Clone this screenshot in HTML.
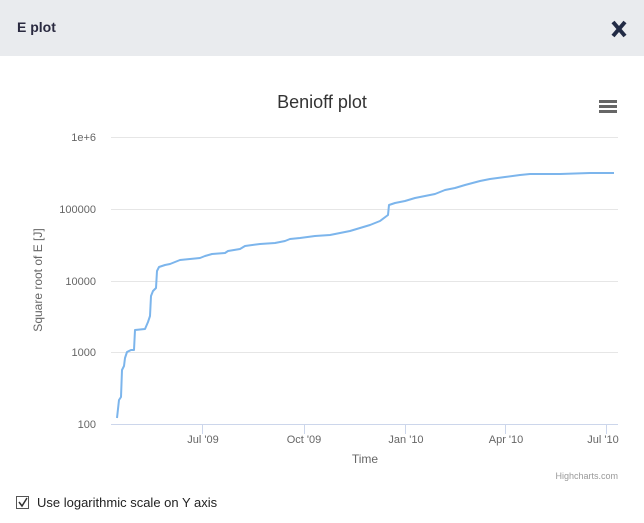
<!DOCTYPE html>
<html><head><meta charset="utf-8"><style>
body{margin:0;width:644px;height:523px;background:#fff;font-family:"Liberation Sans",sans-serif;overflow:hidden;position:relative}
.hdr{position:absolute;left:0;top:0;width:644px;height:56px;background:#e9ebee}
.hdr span{position:absolute;left:17px;top:19px;font-size:14px;font-weight:bold;color:#2a2a40}
</style></head><body>
<div class="hdr"><span>E plot</span></div>
<svg width="644" height="523" style="position:absolute;left:0;top:0" xmlns="http://www.w3.org/2000/svg">
<path d="M613 22 L625 36 M625 22 L613 36" stroke="#222b45" stroke-width="4"/>
<text x="322" y="108" text-anchor="middle" font-size="18" fill="#333">Benioff plot</text>
<g fill="#666"><rect x="599" y="100" width="18" height="3"/><rect x="599" y="105" width="18" height="3"/><rect x="599" y="110" width="18" height="3"/></g>
<g stroke="#e6e6e6" stroke-width="1">
<line x1="111" x2="618" y1="137.5" y2="137.5"/><line x1="111" x2="618" y1="209.5" y2="209.5"/>
<line x1="111" x2="618" y1="281.5" y2="281.5"/><line x1="111" x2="618" y1="352.5" y2="352.5"/>
</g>
<line x1="111" x2="618" y1="424.5" y2="424.5" stroke="#ccd6eb"/>
<g stroke="#ccd6eb"><line x1="202.5" x2="202.5" y1="424" y2="434"/><line x1="304.5" x2="304.5" y1="424" y2="434"/><line x1="405.5" x2="405.5" y1="424" y2="434"/><line x1="505.5" x2="505.5" y1="424" y2="434"/><line x1="606.5" x2="606.5" y1="424" y2="434"/></g>
<g font-size="11" fill="#666" text-anchor="end">
<text x="96" y="141">1e+6</text><text x="96" y="213">100000</text><text x="96" y="285">10000</text><text x="96" y="356">1000</text><text x="96" y="428">100</text>
</g>
<g font-size="11" fill="#666" text-anchor="middle">
<text x="203" y="443">Jul '09</text><text x="304" y="443">Oct '09</text><text x="406" y="443">Jan '10</text><text x="506" y="443">Apr '10</text><text x="603" y="443">Jul '10</text>
</g>
<text x="365" y="463" text-anchor="middle" font-size="12" fill="#666">Time</text>
<text transform="translate(42,280) rotate(-90)" text-anchor="middle" font-size="12" fill="#666">Square root of E [J]</text>
<text x="618" y="479" text-anchor="end" font-size="9" fill="#999">Highcharts.com</text>
<polyline fill="none" stroke="#7cb5ec" stroke-width="2" stroke-linejoin="round" points="117,418 119,400 121,397 122,370 124,366 125,358 127,352 131,350 134,350 135,330 145,329 148,322 150,316 151,296 153,291 156,288 157,271 159,267 162,266 165,265 170,264 175,262 180,260 190,259 200,258 205,256 212,254 225,253 228,251 240,249 245,246 260,244 275,243 285,241 290,239 300,238 315,236 330,235 340,233 350,231 360,228 370,225 380,221 388,215 389,205 395,203 405,201 415,198 425,196 435,194 445,190 455,188 465,185 480,181 490,179 505,177 520,175 530,174 560,174 590,173 614,173"/>
<rect x="16.5" y="496.5" width="12" height="12" fill="#fff" stroke="#555"/>
<path d="M19 502 L22 506 L27 498" fill="none" stroke="#333" stroke-width="1.5"/>
<text x="37" y="507" font-size="13" fill="#222">Use logarithmic scale on Y axis</text>
</svg>
</body></html>
